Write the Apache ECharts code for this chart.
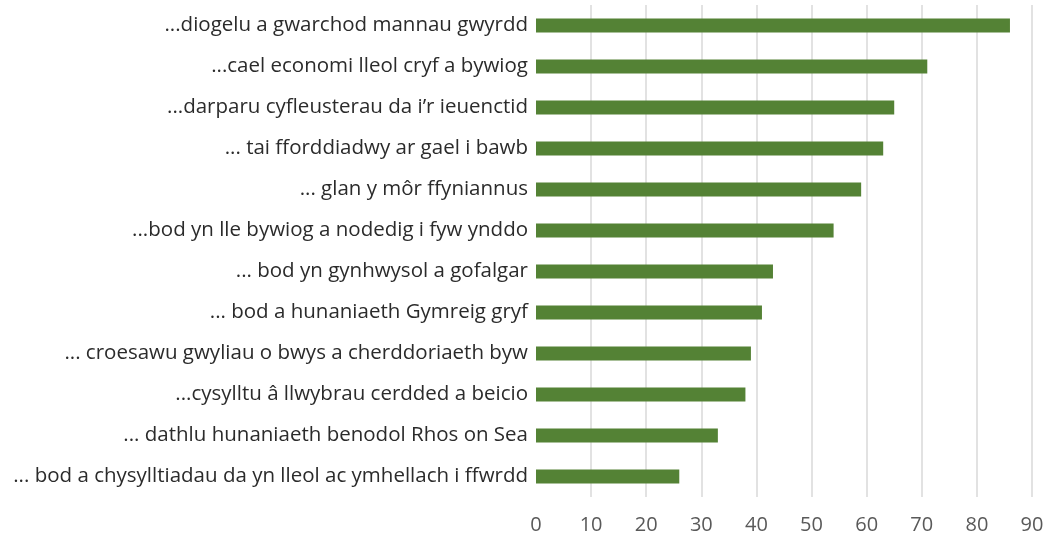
<!DOCTYPE html>
<html>
<head>
<meta charset="utf-8">
<script src="https://cdn.jsdelivr.net/npm/echarts@6/dist/echarts.min.js"></script>
<style>
  html, body { margin: 0; padding: 0; background: #fff; }
  #chart { width: 1048px; height: 539px; }
</style>
</head>
<body>
<div id="chart"></div>
<script>
const FONT = '"Open Sans", "Liberation Sans", sans-serif';

// top to bottom
const categories = [
  "...diogelu a gwarchod mannau gwyrdd",
  "...cael economi lleol cryf a bywiog",
  "...darparu cyfleusterau da i\u2019r ieuenctid",
  "... tai fforddiadwy ar gael i bawb",
  "... glan y m\u00f4r ffyniannus",
  "...bod yn lle bywiog a nodedig i fyw ynddo",
  "... bod yn gynhwysol a gofalgar",
  "... bod a hunaniaeth Gymreig gryf",
  "... croesawu gwyliau o bwys a cherddoriaeth byw",
  "...cysylltu \u00e2 llwybrau cerdded a beicio",
  "... dathlu hunaniaeth benodol Rhos on Sea",
  "... bod a chysylltiadau da yn lleol ac ymhellach i ffwrdd",
];
const values = [86, 71, 65, 63, 59, 54, 43, 41, 39, 38, 33, 26];

const xMin = 0;
const xMax = 90;
const xStep = 10;

const chart = echarts.init(document.getElementById("chart"), null, { renderer: "canvas" });

chart.setOption({
  animation: false,
  backgroundColor: "#ffffff",
  grid: { left: 536, right: 16, top: 5, bottom: 42 },
  xAxis: {
    type: "value",
    min: xMin,
    max: xMax,
    interval: xStep,
    axisLine: { show: false },
    axisTick: { show: false },
    axisLabel: { color: "#595959", fontSize: 20, fontFamily: FONT, margin: 18 },
    splitLine: { show: true, showMinLine: false, lineStyle: { color: "#d9d9d9", width: 1.5 } },
  },
  yAxis: {
    type: "category",
    inverse: true,
    data: categories,
    axisLine: { show: false },
    axisTick: { show: false },
    axisLabel: { color: "#2b2b2b", fontSize: 20.5, fontFamily: FONT, margin: 8 },
  },
  series: [
    {
      type: "bar",
      data: values,
      barWidth: 14,
      itemStyle: { color: "#548235" },
    },
  ],
});
</script>
</body>
</html>
